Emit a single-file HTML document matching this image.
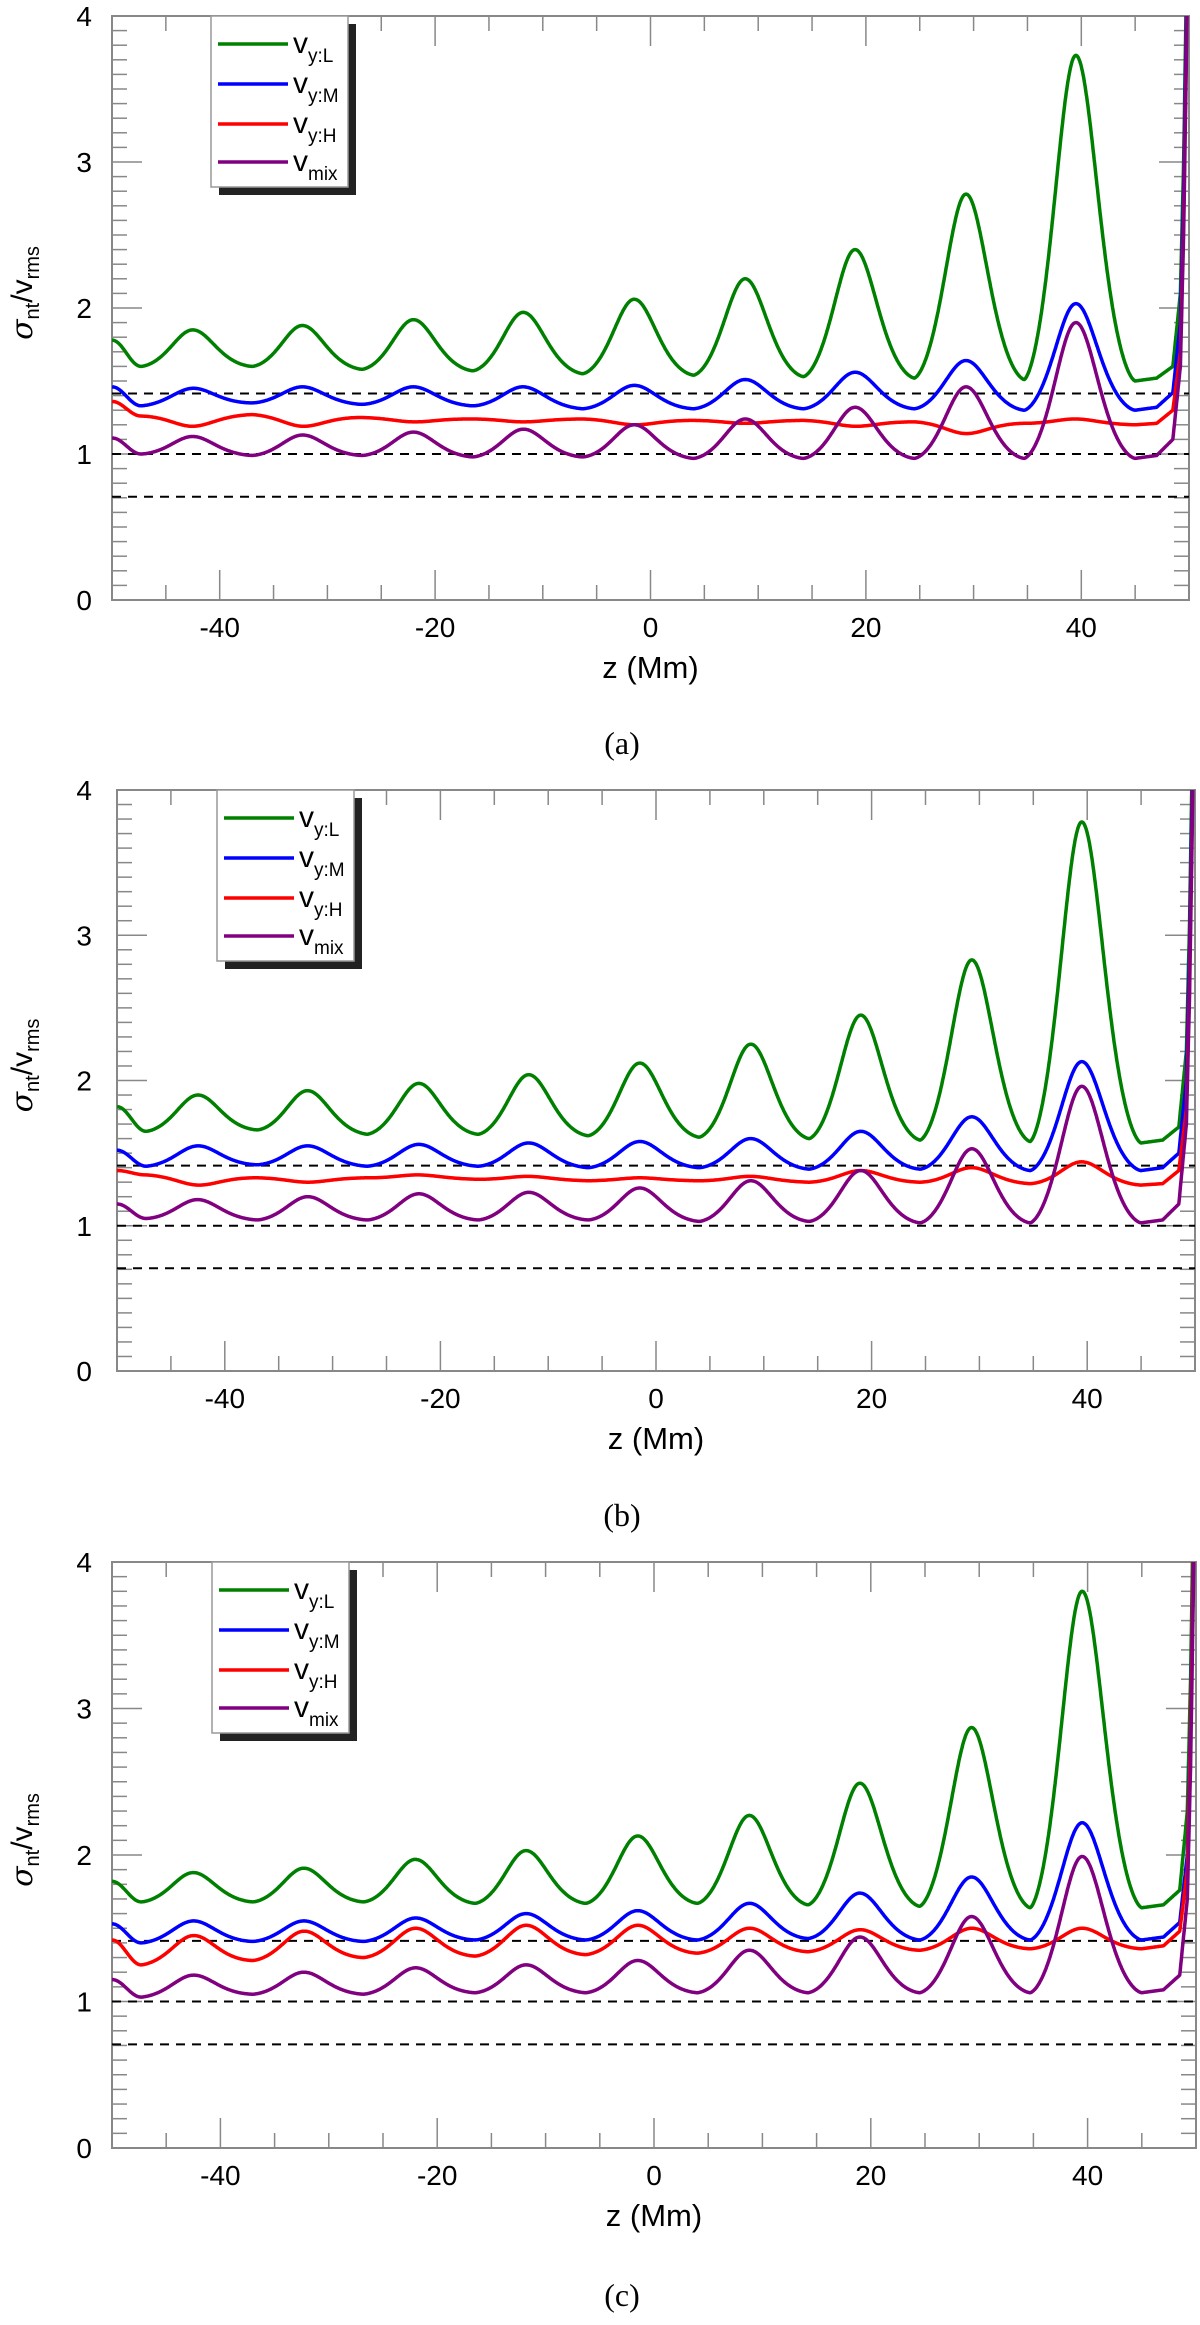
<!DOCTYPE html>
<html><head><meta charset="utf-8"><style>
body{margin:0;background:#fff}
svg text{font-family:"Liberation Sans",sans-serif}
</style></head><body>
<svg id="fig" width="1200" height="2320" viewBox="0 0 1200 2320" xmlns="http://www.w3.org/2000/svg"></svg>
<script>
// shared data
const peakZ = [-42.5, -32.3, -22, -11.8, -1.5, 8.8, 19, 29.3, 39.5];
const troughZ = [-47.3, -37, -26.8, -16.5, -6.3, 4, 14.2, 24.5, 34.7, 45];
const endZ = [47, 48.5, 49.2, 49.5, 49.8, 50.2];
const xTicks = [-40, -20, 0, 20, 40];
const yTicks = [0, 1, 2, 3, 4];
const refLines = [1.414, 1.0, 0.707];
const seriesNames = ["vy:L", "vy:M", "vy:H", "vmix"];
const seriesColors = ["#008000", "#0000ff", "#ff0000", "#800080"];

// panel a
const aStart = [1.78, 1.46, 1.36, 1.11];
const aGreenPeak = [1.85,1.88,1.92,1.97,2.06,2.20,2.40,2.78,3.73];
const aGreenTrough = [1.60,1.60,1.58,1.57,1.55,1.54,1.53,1.52,1.51,1.50];
const aBluePeak = [1.45,1.46,1.46,1.46,1.47,1.51,1.56,1.64,2.03];
const aBlueTrough = [1.33,1.35,1.34,1.33,1.31,1.31,1.31,1.31,1.30,1.30];
const aRedPeak = [1.19,1.19,1.22,1.22,1.20,1.21,1.19,1.14,1.24];
const aRedTrough = [1.26,1.27,1.25,1.24,1.24,1.23,1.23,1.22,1.21,1.20];
const aPurplePeak = [1.12,1.13,1.15,1.17,1.20,1.24,1.32,1.46,1.90];
const aPurpleTrough = [1.00,0.99,0.99,0.98,0.98,0.97,0.97,0.97,0.97,0.97];
const aEnd = [[1.52,1.6,2.1,3.0,4.4,6],[1.32,1.42,1.9,2.8,4.2,6],[1.21,1.3,1.7,2.6,4.0,6],[0.99,1.1,1.6,2.5,3.9,6]];

// panel b
const bStart = [1.82, 1.52, 1.38, 1.15];
const bGreenPeak = [1.90,1.93,1.98,2.04,2.12,2.25,2.45,2.83,3.78];
const bGreenTrough = [1.65,1.66,1.63,1.63,1.62,1.61,1.60,1.59,1.58,1.57];
const bBluePeak = [1.55,1.55,1.56,1.57,1.58,1.60,1.65,1.75,2.13];
const bBlueTrough = [1.41,1.42,1.41,1.41,1.40,1.40,1.39,1.39,1.38,1.38];
const bRedPeak = [1.28,1.30,1.35,1.34,1.33,1.34,1.38,1.40,1.44];
const bRedTrough = [1.35,1.33,1.33,1.32,1.31,1.31,1.30,1.30,1.29,1.28];
const bPurplePeak = [1.18,1.20,1.22,1.23,1.26,1.31,1.38,1.53,1.96];
const bPurpleTrough = [1.05,1.04,1.04,1.04,1.04,1.03,1.03,1.02,1.02,1.02];
const bEnd = [[1.59,1.68,2.2,3.1,4.5,6],[1.40,1.5,2.0,2.9,4.3,6],[1.29,1.38,1.8,2.7,4.1,6],[1.04,1.15,1.7,2.6,4.0,6]];

// panel c
const cStart = [1.82, 1.53, 1.42, 1.15];
const cGreenPeak = [1.88,1.91,1.97,2.03,2.13,2.27,2.49,2.87,3.80];
const cGreenTrough = [1.68,1.68,1.68,1.67,1.67,1.67,1.66,1.65,1.64,1.64];
const cBluePeak = [1.55,1.55,1.57,1.60,1.62,1.67,1.74,1.85,2.22];
const cBlueTrough = [1.40,1.41,1.41,1.42,1.42,1.42,1.43,1.42,1.42,1.42];
const cRedPeak = [1.45,1.48,1.50,1.52,1.52,1.50,1.49,1.50,1.50];
const cRedTrough = [1.25,1.28,1.30,1.31,1.32,1.33,1.34,1.35,1.36,1.36];
const cPurplePeak = [1.18,1.20,1.23,1.25,1.28,1.35,1.44,1.58,1.99];
const cPurpleTrough = [1.03,1.05,1.05,1.06,1.06,1.06,1.06,1.06,1.06,1.06];
const cEnd = [[1.66,1.76,2.3,3.2,4.6,6],[1.44,1.54,2.0,2.9,4.3,6],[1.38,1.48,1.9,2.8,4.2,6],[1.08,1.18,1.7,2.6,4.0,6]];

const NS = "http://www.w3.org/2000/svg";
const svg = document.getElementById("fig");
function mk(tag, attrs, parent) {
  const e = document.createElementNS(NS, tag);
  for (const k in attrs) e.setAttribute(k, attrs[k]);
  (parent || svg).appendChild(e);
  return e;
}

const panels = [
  {id:"a", L:112, R:1189, T:16, B:600, cap:"(a)", capY:754, lg:{x:211, y:16},
   start:aStart, peaks:[aGreenPeak,aBluePeak,aRedPeak,aPurplePeak], troughs:[aGreenTrough,aBlueTrough,aRedTrough,aPurpleTrough], ends:aEnd},
  {id:"b", L:117, R:1195, T:790, B:1371, cap:"(b)", capY:1526, lg:{x:217, y:790},
   start:bStart, peaks:[bGreenPeak,bBluePeak,bRedPeak,bPurplePeak], troughs:[bGreenTrough,bBlueTrough,bRedTrough,bPurpleTrough], ends:bEnd},
  {id:"c", L:112, R:1196, T:1562, B:2148, cap:"(c)", capY:2306, lg:{x:212, y:1562},
   start:cStart, peaks:[cGreenPeak,cBluePeak,cRedPeak,cPurplePeak], troughs:[cGreenTrough,cBlueTrough,cRedTrough,cPurpleTrough], ends:cEnd}
];

function curveValue(z, start, pk, tr, en) {
  if (z <= troughZ[0]) {
    const t = (z + 50) / (troughZ[0] + 50);
    return start + (tr[0] - start) * (1 - Math.cos(Math.PI * t)) / 2;
  }
  for (let i = 0; i < peakZ.length; i++) {
    if (z <= troughZ[i + 1]) {
      const z0 = troughZ[i], z1 = troughZ[i + 1], zp = peakZ[i];
      const base = tr[i] + (tr[i + 1] - tr[i]) * (z - z0) / (z1 - z0);
      const baseP = tr[i] + (tr[i + 1] - tr[i]) * (zp - z0) / (z1 - z0);
      const w = 4.0;
      const dEdge = z <= zp ? zp - z0 : z1 - zp;
      const Lt = w * w / (dEdge * dEdge + w * w);
      const L = w * w / ((z - zp) * (z - zp) + w * w);
      const fn = Math.max(0, (L - Lt) / (1 - Lt));
      const h = Math.pow(fn, 1.45);
      return base + (pk[i] - baseP) * h;
    }
  }
  const zs = [troughZ[troughZ.length - 1]].concat(endZ);
  const vs = [tr[tr.length - 1]].concat(en);
  for (let j = 0; j < zs.length - 1; j++) {
    if (z <= zs[j + 1]) {
      const t = (z - zs[j]) / (zs[j + 1] - zs[j]);
      return vs[j] + (vs[j + 1] - vs[j]) * t;
    }
  }
  return vs[vs.length - 1];
}

panels.forEach(p => {
  const g = mk("g", { });
  const xs = z => p.L + (z + 50) / 100 * (p.R - p.L);
  const ys = v => p.B - v / 4 * (p.B - p.T);
  const cp = mk("clipPath", {id: "clip" + p.id}, g);
  mk("rect", {x: p.L, y: p.T, width: p.R - p.L, height: p.B - p.T}, cp);
  const fr = mk("rect", {x: p.L, y: p.T, width: p.R - p.L, height: p.B - p.T, fill: "none", stroke: "#888", "stroke-width": 2}, g);
  
  
  for (let k = 1; k < 40; k++) {
    const v = k / 10, yy = ys(v), len = (k % 10 === 0) ? 30 : 15;
    mk("line", {x1: p.L, x2: p.L + len, y1: yy, y2: yy, stroke: "#888", "stroke-width": 1.5}, g);
    mk("line", {x1: p.R, x2: p.R - len, y1: yy, y2: yy, stroke: "#888", "stroke-width": 1.5}, g);
  }
  for (let z = -45; z < 50; z += 5) {
    const xx = xs(z), len = (z % 20 === 0) ? 30 : 15;
    mk("line", {x1: xx, x2: xx, y1: p.B, y2: p.B - len, stroke: "#888", "stroke-width": 1.5}, g);
    mk("line", {x1: xx, x2: xx, y1: p.T, y2: p.T + len, stroke: "#888", "stroke-width": 1.5}, g);
  }
  yTicks.forEach(v => {
    const t = mk("text", {x: 92, y: ys(v) + 10, "font-size": 28, "text-anchor": "end", fill: "#000"}, g);
    t.textContent = v;
    
    
  });
  xTicks.forEach(z => {
    const t = mk("text", {x: xs(z), y: p.B + 37, "font-size": 28, "text-anchor": "middle", fill: "#000"}, g);
    t.textContent = z;
    
    
  });
  const xl = mk("text", {x: xs(0), y: p.B + 78, "font-size": 31, "text-anchor": "middle"}, g);
  xl.textContent = "z (Mm)";
  
  
  const cy = (p.T + p.B) / 2 - 15;
  const yl = mk("text", {x: 0, y: 0, "font-size": 30, "text-anchor": "middle", transform: "translate(32," + cy + ") rotate(-90)"}, g);
  yl.innerHTML = '<tspan font-family="DejaVu Serif" font-style="italic">σ</tspan><tspan font-size="20" dy="7">nt</tspan><tspan dy="-7">/v</tspan><tspan font-size="20" dy="7">rms</tspan>';
  
  
  refLines.forEach(v => {
    const l = mk("line", {x1: p.L, x2: p.R, y1: ys(v), y2: ys(v), stroke: "#000", "stroke-width": 2, "stroke-dasharray": "9,7"}, g);
    
    
  });
  const sg = mk("g", {"clip-path": "url(#clip" + p.id + ")"}, g);
  for (let s = 0; s < 4; s++) {
    let d = "";
    for (let z = -50; z <= 50.2; z += 0.05) {
      const v = curveValue(z, p.start[s], p.peaks[s], p.troughs[s], p.ends[s]);
      d += (d ? "L" : "M") + xs(z).toFixed(1) + "," + ys(v).toFixed(1);
    }
    const path = mk("path", {d: d, fill: "none", stroke: seriesColors[s], "stroke-width": 3.5, "stroke-linejoin": "round"}, sg);
    
    
  }
  const lx = p.lg.x, ly = p.lg.y;
  const lgG = mk("g", {}, g);
  
  
  mk("rect", {x: lx + 8, y: ly + 8, width: 137, height: 171, fill: "#222"}, lgG);
  mk("rect", {x: lx, y: ly, width: 137, height: 171, fill: "#fff", stroke: "#999", "stroke-width": 1.5}, lgG);
  const subs = ["y:L", "y:M", "y:H", "mix"];
  const offs = [28, 68, 108, 146];
  for (let s = 0; s < 4; s++) {
    const yy = ly + offs[s];
    mk("line", {x1: lx + 7, x2: lx + 77, y1: yy, y2: yy, stroke: seriesColors[s], "stroke-width": 3.5}, lgG);
    const t = mk("text", {x: lx + 82, y: yy + 9, "font-size": 30}, lgG);
    t.innerHTML = 'v<tspan font-size="19" dy="9">' + subs[s] + '</tspan>';
    
    
  }
  const c = mk("text", {x: 622, y: p.capY, "font-size": 32, "text-anchor": "middle", style: "font-family:'Liberation Serif',serif"}, g);
  c.textContent = p.cap;
  
  
});
</script>
</body></html>
